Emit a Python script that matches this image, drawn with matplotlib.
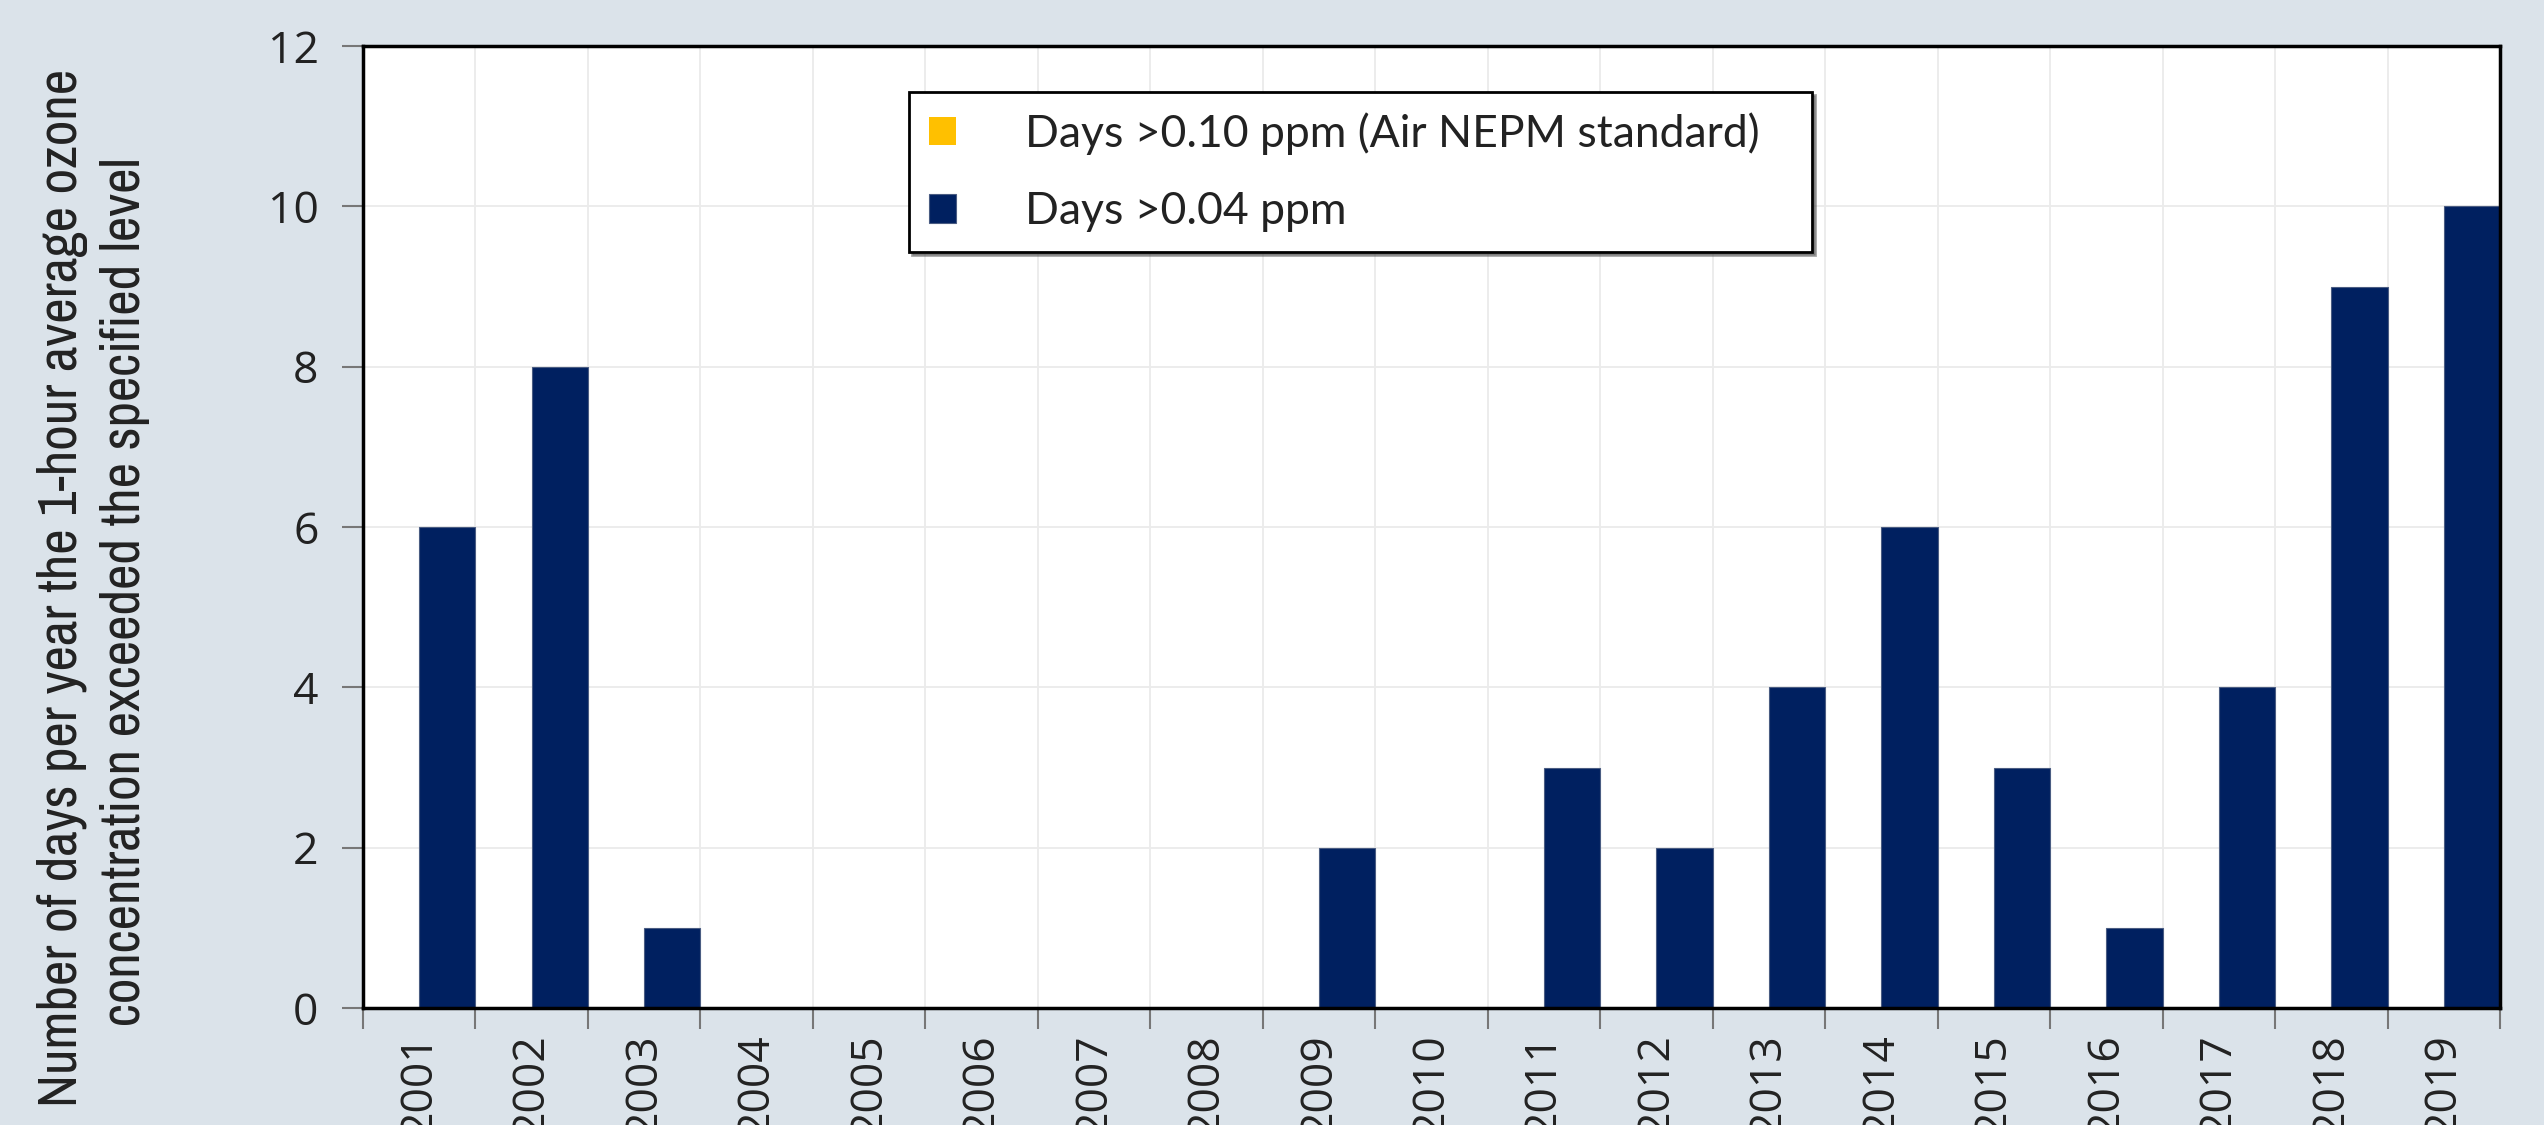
import matplotlib
matplotlib.use("Agg")
import matplotlib.pyplot as plt
from matplotlib import font_manager as fm
from matplotlib.font_manager import FontProperties
import numpy as np

years = ["2001", "2002", "2003", "2004", "2005", "2006", "2007", "2008", "2009", "2010",
         "2011", "2012", "2013", "2014", "2015", "2016", "2017", "2018", "2019"]
days_010 = [0, 0, 0, 0, 0, 0, 0, 0, 0, 0, 0, 0, 0, 0, 0, 0, 0, 0, 0]
days_004 = [6, 8, 1, 0, 0, 0, 0, 0, 2, 0, 3, 2, 4, 6, 3, 1, 4, 9, 10]
yticks = [0, 2, 4, 6, 8, 10, 12]
label_010 = "Days >0.10 ppm (Air NEPM standard)"
label_004 = "Days >0.04 ppm"
ylabel_lines = ["Number of days per year the 1-hour average ozone",
                "concentration exceeded the specified level"]

# pick a narrow font if one is installed
narrow_fp = None
pref = []
for f in fm.fontManager.ttflist:
    nm = f.name
    cond = ("Narrow" in nm or "Condensed" in nm or
            str(f.stretch) in ("condensed", "semi-condensed", "extra-condensed", "ultra-condensed"))
    if cond and f.style == "normal" and f.weight in (400, "normal", "regular", "book"):
        score = 0 if "Liberation" in nm else (1 if "Narrow" in nm else 2)
        pref.append((score, f.fname))
if pref:
    pref.sort()
    narrow_fp = FontProperties(fname=pref[0][1])
else:
    narrow_fp = FontProperties(family="Liberation Sans")

BG = "#dbe3ea"
NAVY = "#002060"
YELLOW = "#ffc000"

fig = plt.figure(figsize=(25.44, 11.25), dpi=100, facecolor=BG)
ax = fig.add_axes([363/2544, 1-1008/1125, (2500-363)/2544, (1008-46)/1125])
ax.set_facecolor("white")

x = np.arange(len(years))
ax.bar(x - 0.25, days_010, width=0.5, color=YELLOW, label=label_010, zorder=3)
ax.bar(x + 0.25, days_004, width=0.5, color=NAVY, edgecolor="#4a5c82", linewidth=0.8,
       label=label_004, zorder=3)

ax.set_xlim(-0.5, len(years) - 0.5)
ax.set_ylim(0, 12)
ax.set_yticks(yticks)
ax.set_yticklabels([str(v) for v in yticks], fontfamily="Open Sans", fontsize=32, color="#222222")

ax.set_xticks(np.arange(len(years) + 1) - 0.5)
ax.set_xticklabels([])
ax.set_xticks(x, minor=True)
ax.set_xticklabels(years, minor=True, rotation=90, fontfamily="Open Sans", fontsize=32,
                   color="#222222", va="top", ha="center")
ax.tick_params(axis="x", which="major", length=15, width=1.5, color="#777777", direction="out")
ax.tick_params(axis="x", which="minor", length=0, pad=18)
ax.tick_params(axis="y", length=15, width=1.5, color="#777777", pad=17, direction="out")

ax.grid(True, which="major", axis="both", color="#ebebeb", linewidth=1.3, zorder=0)
ax.set_axisbelow(True)
for s in ax.spines.values():
    s.set_color("black")
    s.set_linewidth(2.5)
    s.set_zorder(5)

ax_w, ax_h = 2137, 962
x0 = (909 - 363) / ax_w
x1 = (1812 - 363) / ax_w
ytop = (1008 - 92) / ax_h
ybot = (1008 - 251) / ax_h
leg = ax.legend(loc="upper left", bbox_to_anchor=(x0, ybot, x1 - x0, ytop - ybot),
                mode="expand", borderaxespad=0, frameon=True, fancybox=False, shadow=True,
                prop={"family": ["Lato", "DejaVu Sans"], "size": 32},
                handlelength=0.6, handleheight=0.6, handletextpad=1.55,
                labelspacing=0.82, borderpad=0.45, facecolor="white")
leg.get_frame().set_edgecolor("black")
leg.get_frame().set_linewidth(2)
for t in leg.get_texts():
    t.set_color("#222222")

# y-axis title: two centred lines, sized to the reference width
target_w = 1038.0
fs = 33.0
probe = fig.text(0, 0, ylabel_lines[0], fontproperties=narrow_fp, fontsize=fs)
fig.canvas.draw()
w = probe.get_window_extent().width
probe.remove()
fs = fs * target_w / w
fig.text(63/2544, 1-588/1125, ylabel_lines[0], rotation=90, ha="center", va="center",
         fontproperties=narrow_fp, fontsize=fs, color="#222222")
fig.text(125/2544, 1-592/1125, ylabel_lines[1], rotation=90, ha="center", va="center",
         fontproperties=narrow_fp, fontsize=fs, color="#222222")

fig.savefig("out.png", dpi=100, facecolor=BG)
